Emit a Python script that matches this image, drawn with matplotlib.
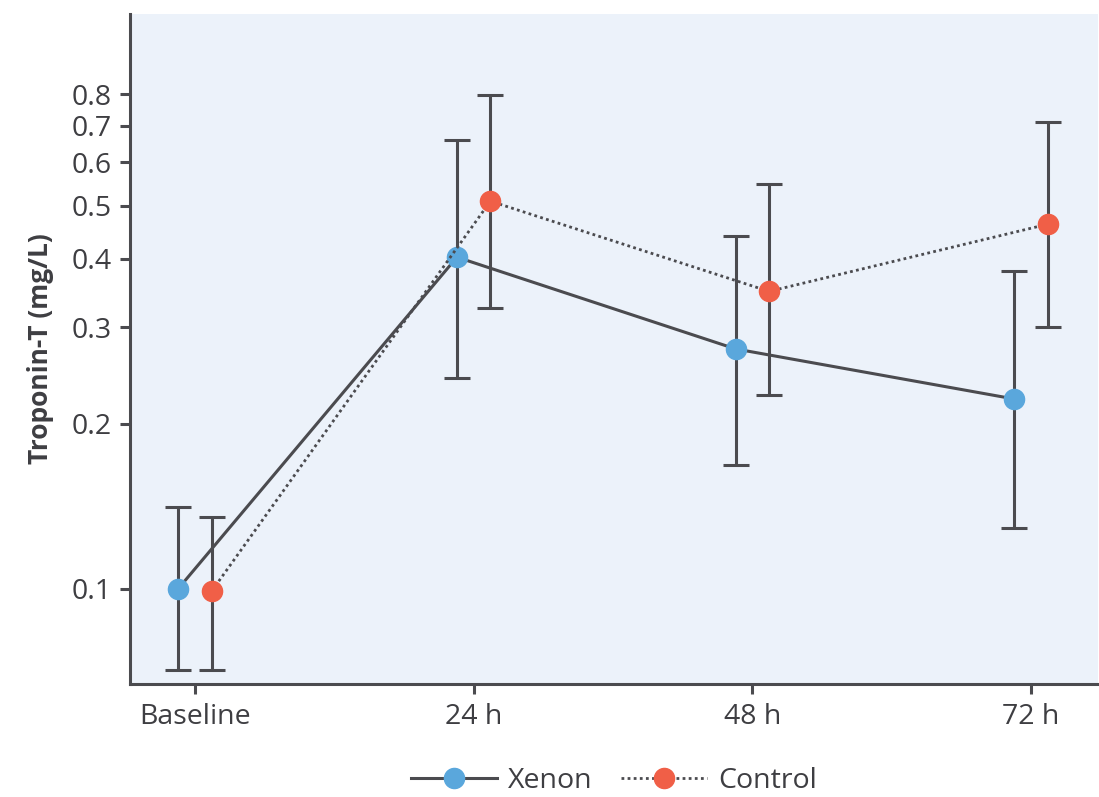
import matplotlib
matplotlib.use("Agg")
import matplotlib.pyplot as plt
import numpy as np

plt.rcParams['font.family'] = ['Open Sans', 'DejaVu Sans']

categories = ["Baseline", "24 h", "48 h", "72 h"]
xenon = [0.100, 0.403, 0.274, 0.222]
xenon_lo = [0.071, 0.243, 0.168, 0.129]
xenon_hi = [0.141, 0.659, 0.440, 0.380]
control = [0.099, 0.510, 0.349, 0.463]
control_lo = [0.071, 0.325, 0.226, 0.301]
control_hi = [0.135, 0.796, 0.548, 0.711]
yticks = [0.1, 0.2, 0.3, 0.4, 0.5, 0.6, 0.7, 0.8]

dark = "#4b4b4f"
blue = "#5aa7dc"
red = "#f05f47"

fig = plt.figure(figsize=(10.99, 7.97), dpi=100)
ax = fig.add_axes([0.1183, 0.1418, 0.8808, 0.8406])
ax.set_facecolor("#ecf2fa")

x = np.arange(len(categories))
off = 0.06

def draw(xs, y, lo, hi, color, ls, label):
    y = np.array(y); lo = np.array(lo); hi = np.array(hi)
    ax.errorbar(xs, y, yerr=[y - lo, hi - y], fmt='none', ecolor=dark,
                elinewidth=2.2, capsize=9.4, capthick=2.2, zorder=2)
    ax.plot(xs, y, color=dark, lw=2.2 if ls == '-' else 2.0, ls=ls, zorder=3,
            marker='o', markersize=14.5, markerfacecolor=color,
            markeredgecolor=color, label=label)

draw(x - off, xenon, xenon_lo, xenon_hi, blue, '-', "Xenon")
draw(x + off, control, control_lo, control_hi, red, (0, (1, 1.2)), "Control")

ax.set_yscale('log')
ax.set_ylim(0.067, 1.12)
ax.set_xlim(-0.233, 3.24)
ax.set_yticks(yticks)
ax.set_yticklabels([f"{v:g}" for v in yticks])
ax.yaxis.set_minor_locator(matplotlib.ticker.NullLocator())
ax.set_xticks(x)
ax.set_xticklabels(categories)

for s in ['top', 'right']:
    ax.spines[s].set_visible(False)
for s in ['left', 'bottom']:
    ax.spines[s].set_color(dark)
    ax.spines[s].set_linewidth(2.2)
ax.tick_params(axis='both', colors=dark, width=2.2, length=7, labelsize=20.5,
               labelcolor="#3e3e42", pad=6)
ax.tick_params(axis='x', pad=7)

ax.set_ylabel("Troponin-T (mg/L)", fontsize=19, fontweight='bold', color="#3e3e42", labelpad=13)

leg = ax.legend(loc='upper center', bbox_to_anchor=(0.5, -0.094), ncol=2, frameon=False,
                fontsize=20.5, handlelength=3.0, columnspacing=1.0, handletextpad=0.4,
                labelcolor="#3e3e42", borderpad=0.2)

fig.savefig("out.png", dpi=100)
